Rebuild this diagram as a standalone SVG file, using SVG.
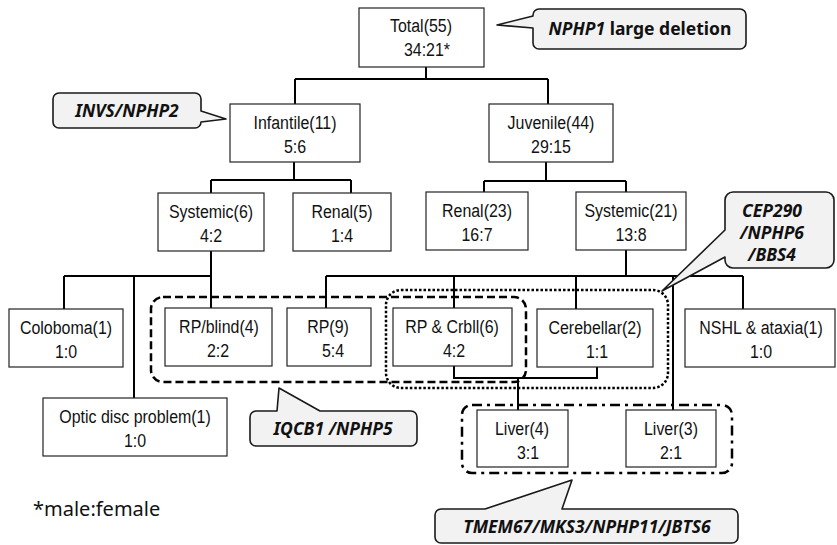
<svg xmlns="http://www.w3.org/2000/svg" width="837" height="545" viewBox="0 0 837 545">
<style>
.box{fill:#fff;stroke:#222;stroke-width:1.2}
.t{font-family:"Liberation Sans",Arial,sans-serif;font-size:19px;fill:#111;text-anchor:middle}
.con{fill:none;stroke:#000;stroke-width:2}
.co{fill:#f2f2f2;stroke:#1a1a1a;stroke-width:1.6;stroke-linejoin:round}
.ct{font-family:"Noto Sans","DejaVu Sans",sans-serif;font-size:17.5px;font-weight:bold;font-style:italic;fill:#111;text-anchor:middle}
.grp{fill:none;stroke:#000;stroke-width:2.5}
</style>
<rect width="837" height="545" fill="#fff"/>
<g id="connectors" class="con">
<path d="M426,67V79M295,79H548M295,79V104M548,79V104"/>
<path d="M294,162V180M211,180H351M211,180V193M351,180V193"/>
<path d="M546,162V181M484,181H626M484,181V192M626,181V192"/>
<path d="M211,251V276M64,276H211M64,276V309M134,276V398M211,276V308"/>
<path d="M626,250V276M326,276H743M326,276V308M454,276V308M576,276V309M673,276V410M743,276V309"/>
<path d="M454,366V378H597V367M518,378V410"/>
</g>
<g id="groups">
<rect x="151" y="297" width="375" height="85" rx="12" class="grp" stroke-dasharray="8 4"/>
<rect x="386" y="290" width="282" height="98" rx="15" class="grp" stroke-dasharray="2.5 2"/>
<rect x="462" y="405" width="270" height="68" rx="10" class="grp" stroke-dasharray="10 5 3 5"/>
</g>
<g id="total"><rect class="box" x="359" y="8" width="125" height="59"/>
<text class="t" transform="translate(421,32) scale(0.84,1)">Total(55)</text>
<text class="t" transform="translate(427,56) scale(0.84,1)">34:21*</text></g>
<g id="infantile"><rect class="box" x="230" y="104" width="130" height="58"/>
<text class="t" transform="translate(295,129) scale(0.84,1)">Infantile(11)</text>
<text class="t" transform="translate(295,153) scale(0.84,1)">5:6</text></g>
<g id="juvenile"><rect class="box" x="489" y="104" width="124" height="58"/>
<text class="t" transform="translate(551,129) scale(0.84,1)">Juvenile(44)</text>
<text class="t" transform="translate(551,153) scale(0.84,1)">29:15</text></g>
<g id="systemic6"><rect class="box" x="158" y="193" width="106" height="58"/>
<text class="t" transform="translate(211,218) scale(0.84,1)">Systemic(6)</text>
<text class="t" transform="translate(211,242) scale(0.84,1)">4:2</text></g>
<g id="renal5"><rect class="box" x="293" y="193" width="98" height="58"/>
<text class="t" transform="translate(342,218) scale(0.84,1)">Renal(5)</text>
<text class="t" transform="translate(342,242) scale(0.84,1)">1:4</text></g>
<g id="renal23"><rect class="box" x="426" y="192" width="102" height="58"/>
<text class="t" transform="translate(477,217) scale(0.84,1)">Renal(23)</text>
<text class="t" transform="translate(477,241) scale(0.84,1)">16:7</text></g>
<g id="systemic21"><rect class="box" x="576" y="192" width="110" height="58"/>
<text class="t" transform="translate(631,217) scale(0.84,1)">Systemic(21)</text>
<text class="t" transform="translate(631,241) scale(0.84,1)">13:8</text></g>
<g id="coloboma"><rect class="box" x="9" y="309" width="114" height="58"/>
<text class="t" transform="translate(66,334) scale(0.84,1)">Coloboma(1)</text>
<text class="t" transform="translate(66,358) scale(0.84,1)">1:0</text></g>
<g id="optic"><rect class="box" x="43" y="398" width="184" height="58"/>
<text class="t" transform="translate(135,423) scale(0.84,1)">Optic disc problem(1)</text>
<text class="t" transform="translate(135,447) scale(0.84,1)">1:0</text></g>
<g id="rpblind"><rect class="box" x="165" y="308" width="107" height="58"/>
<text class="t" transform="translate(219,333) scale(0.84,1)">RP/blind(4)</text>
<text class="t" transform="translate(218,357) scale(0.84,1)">2:2</text></g>
<g id="rp9"><rect class="box" x="287" y="308" width="84" height="58"/>
<text class="t" transform="translate(328,333) scale(0.84,1)">RP(9)</text>
<text class="t" transform="translate(333,357) scale(0.84,1)">5:4</text></g>
<g id="rpcrbll"><rect class="box" x="393" y="308" width="119" height="58"/>
<text class="t" transform="translate(452,333) scale(0.84,1)">RP &amp; Crbll(6)</text>
<text class="t" transform="translate(454,357) scale(0.84,1)">4:2</text></g>
<g id="cerebellar"><rect class="box" x="537" y="309" width="116" height="58"/>
<text class="t" transform="translate(595,334) scale(0.84,1)">Cerebellar(2)</text>
<text class="t" transform="translate(597,358) scale(0.84,1)">1:1</text></g>
<g id="nshl"><rect class="box" x="685" y="309" width="150" height="58"/>
<text class="t" transform="translate(761,334) scale(0.84,1)">NSHL &amp; ataxia(1)</text>
<text class="t" transform="translate(761,358) scale(0.84,1)">1:0</text></g>
<g id="liver4"><rect class="box" x="477" y="410" width="91" height="57"/>
<text class="t" transform="translate(522,435) scale(0.84,1)">Liver(4)</text>
<text class="t" transform="translate(528,459) scale(0.84,1)">3:1</text></g>
<g id="liver3"><rect class="box" x="626" y="410" width="90" height="57"/>
<text class="t" transform="translate(671,435) scale(0.84,1)">Liver(3)</text>
<text class="t" transform="translate(671,459) scale(0.84,1)">2:1</text></g>
<g id="callout-nphp1">
<path class="co" d="M539,9H740A6,6 0 0 1 746,15V43A6,6 0 0 1 740,49H539A6,6 0 0 1 533,43V28L497,25L533,16V15A6,6 0 0 1 539,9Z"/>
<text class="ct" x="640" y="35"><tspan>NPHP1</tspan><tspan font-style="normal"> large deletion</tspan></text></g>
<g id="callout-invs">
<path class="co" d="M59,93H195A6,6 0 0 1 201,99V111L226,119L201,122A6,6 0 0 1 195,128H59A6,6 0 0 1 53,122V99A6,6 0 0 1 59,93Z"/>
<text class="ct" x="127" y="117">INVS/NPHP2</text></g>
<g id="callout-cep290">
<path class="co" d="M733,192H826A8,8 0 0 1 834,200V260A8,8 0 0 1 826,268H733A8,8 0 0 1 725,260V257L662,291L725,230V200A8,8 0 0 1 733,192Z"/>
<text class="ct" x="772" y="217" font-size="16">CEP290</text>
<text class="ct" x="772" y="239" font-size="16">/NPHP6</text>
<text class="ct" x="772" y="261" font-size="16">/BBS4</text></g>
<g id="callout-iqcb1">
<path class="co" d="M256,411H277L279,388L320,411H411A6,6 0 0 1 417,417V440A6,6 0 0 1 411,446H256A6,6 0 0 1 250,440V417A6,6 0 0 1 256,411Z"/>
<text class="ct" x="333" y="435">IQCB1 /NPHP5</text></g>
<g id="callout-tmem">
<path class="co" d="M441,509H485L572,480L562,509H732A6,6 0 0 1 738,515V537A6,6 0 0 1 732,543H441A6,6 0 0 1 435,537V515A6,6 0 0 1 441,509Z"/>
<text class="ct" x="587" y="533">TMEM67/MKS3/NPHP11/JBTS6</text></g>
<text x="33" y="516" font-family="'Noto Sans','DejaVu Sans',sans-serif" font-size="20" fill="#111">*male:female</text>
</svg>
